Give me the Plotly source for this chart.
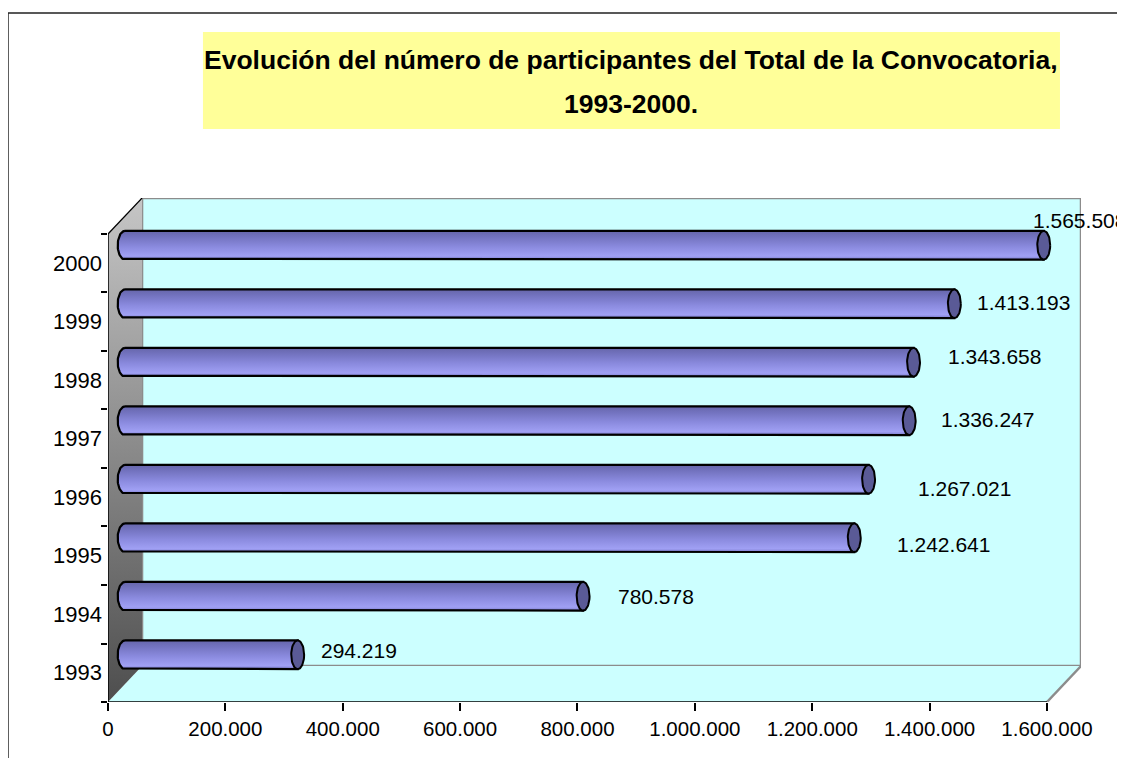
import numpy as np
import plotly.graph_objects as go

# ---------------- data ----------------
years = ["1993", "1994", "1995", "1996", "1997", "1998", "1999", "2000"]
participants = [294219, 780578, 1242641, 1267021, 1336247, 1343658, 1413193, 1565508]
label_texts = ["294.219", "780.578", "1.242.641", "1.267.021",
               "1.336.247", "1.343.658", "1.413.193", "1.565.508"]
x_tickvals = [0, 200000, 400000, 600000, 800000, 1000000, 1200000, 1400000, 1600000]
x_ticktext = ["0", "200.000", "400.000", "600.000", "800.000",
              "1.000.000", "1.200.000", "1.400.000", "1.600.000"]
title_lines = ["Evolución del número de participantes del Total de la Convocatoria,",
               "1993-2000."]

# label nudges in pixels (Excel placement quirks)
label_dx = [21, 33, 41, 47, 30, 32, 21, -13]
label_dy = [-4, 0, 7, 9, -1, -6, -1, -25]

# ---------------- geometry / style ----------------
XMAX = 1600000
DX = 58000          # 3-D depth offset in value units
DY = 0.615          # 3-D depth offset in category units
N = len(years)
RY = 0.245
RX_R = 11000
RX_L = 12500

FONT = "Liberation Sans, Arial, sans-serif"
WALL = "#CCFFFF"
EDGE_GRAY = "#8C8C8C"

fig = go.Figure()

# left wall (gradient)
fig.add_trace(go.Scatter(
    x=[0, DX, DX, 0, 0],
    y=[-0.5, -0.5 + DY, N - 0.5 + DY, N - 0.5, -0.5],
    mode="lines", fill="toself",
    line=dict(width=0, color="rgba(0,0,0,0)"),
    fillgradient=dict(type="vertical",
                      colorscale=[[0, "#4E4E4E"], [1, "#C6C6C6"]]),
    hoverinfo="skip", showlegend=False))

# cylinders
t = np.linspace(0, np.pi, 40)
tt = np.linspace(0, 2 * np.pi, 60)
for i, v in enumerate(participants):
    yc = i + DY / 2
    x0 = DX / 2
    x1 = v + DX / 2
    bx = [x0, x1, x1, x0] + list(x0 - RX_L * np.sin(t))
    by = [yc + RY, yc + RY, yc - RY, yc - RY] + list(yc - RY * np.cos(t))
    fig.add_trace(go.Scatter(
        x=bx, y=by, mode="lines", fill="toself",
        line=dict(width=2.2, color="black"),
        fillgradient=dict(type="vertical",
                          colorscale=[[0, "#7C7CCC"], [0.12, "#A0A0F4"],
                                      [0.45, "#8A8ADE"], [0.8, "#7272BE"],
                                      [1, "#6666AA"]]),
        hoverinfo="skip", showlegend=False))
    fig.add_trace(go.Scatter(
        x=list(x1 + RX_R * np.cos(tt)), y=list(yc + RY * np.sin(tt)),
        mode="lines", fill="toself", fillcolor="#5A5A96",
        line=dict(width=2, color="black"),
        hoverinfo="skip", showlegend=False))

shapes = []
# back wall
shapes.append(dict(type="rect", xref="x", yref="y",
                   x0=DX, x1=XMAX + DX, y0=-0.5 + DY, y1=N - 0.5 + DY,
                   fillcolor=WALL, line=dict(color=EDGE_GRAY, width=2.5),
                   layer="below"))
# floor
shapes.append(dict(type="path", xref="x", yref="y",
                   path=f"M 0 -0.5 L {XMAX} -0.5 L {XMAX + DX} {-0.5 + DY} L {DX} {-0.5 + DY} Z",
                   fillcolor=WALL, line=dict(width=0), layer="below"))
# floor right diagonal
shapes.append(dict(type="line", xref="x", yref="y",
                   x0=XMAX, y0=-0.5, x1=XMAX + DX, y1=-0.5 + DY,
                   line=dict(color=EDGE_GRAY, width=2.5)))
# front floor edge (value axis line)
shapes.append(dict(type="line", xref="x", yref="y",
                   x0=0, y0=-0.5, x1=XMAX, y1=-0.5,
                   line=dict(color="black", width=1.5)))
# front left edge (category axis line)
shapes.append(dict(type="line", xref="x", yref="y",
                   x0=0, y0=-0.5, x1=0, y1=N - 0.5,
                   line=dict(color="black", width=1.5)))
# left wall top diagonal
shapes.append(dict(type="line", xref="x", yref="y",
                   x0=0, y0=N - 0.5, x1=DX, y1=N - 0.5 + DY,
                   line=dict(color="black", width=1.2)))
# outer chart frame
shapes.append(dict(type="rect", xref="paper", yref="paper",
                   x0=-0.1028, x1=1.06, y0=-0.14, y1=1.367,
                   line=dict(color="#222222", width=1.5), fillcolor="rgba(0,0,0,0)"))
# title box
shapes.append(dict(type="rect", xref="paper", yref="paper",
                   x0=0.0976, x1=0.9784, y0=1.1369, y1=1.3294,
                   line=dict(width=0), fillcolor="#FFFF99"))

annotations = []
annotations.append(dict(xref="paper", yref="paper", x=0.538, y=1.2738,
                        text=f"<b>{title_lines[0]}</b>", showarrow=False,
                        xanchor="center", yanchor="middle",
                        font=dict(family=FONT, size=26.5, color="black")))
annotations.append(dict(xref="paper", yref="paper", x=0.538, y=1.1865,
                        text=f"<b>{title_lines[1]}</b>", showarrow=False,
                        xanchor="center", yanchor="middle",
                        font=dict(family=FONT, size=26.5, color="black")))
for i, v in enumerate(participants):
    annotations.append(dict(xref="x", yref="y", x=v + DX / 2, y=i + DY / 2,
                            text=label_texts[i], showarrow=False,
                            xanchor="left", yanchor="middle",
                            xshift=label_dx[i], yshift=-label_dy[i],
                            font=dict(family=FONT, size=21, color="black")))

fig.update_layout(
    width=1125, height=758,
    margin=dict(l=100, r=52, t=190, b=64, autoexpand=False),
    paper_bgcolor="white", plot_bgcolor="white",
    showlegend=False,
    shapes=shapes, annotations=annotations,
    xaxis=dict(range=[0, XMAX + DX], tickvals=x_tickvals, ticktext=x_ticktext,
               ticks="outside", ticklen=8, tickwidth=1.5, tickcolor="black",
               showgrid=False, zeroline=False, showline=False, automargin=False,
               tickfont=dict(family=FONT, size=20.5, color="black"), fixedrange=True),
    yaxis=dict(range=[-0.5, N - 0.5 + DY], tickvals=list(range(N)), ticktext=years,
               ticks="", showgrid=False, zeroline=False, showline=False, automargin=False,
               ticklabelstandoff=5,
               minor=dict(tickvals=[k - 0.5 for k in range(N + 1)], ticks="outside",
                          ticklen=6, tickwidth=1.5, tickcolor="black", showgrid=False),
               tickfont=dict(family=FONT, size=22, color="black"), fixedrange=True),
)

fig.write_html("out.html")
